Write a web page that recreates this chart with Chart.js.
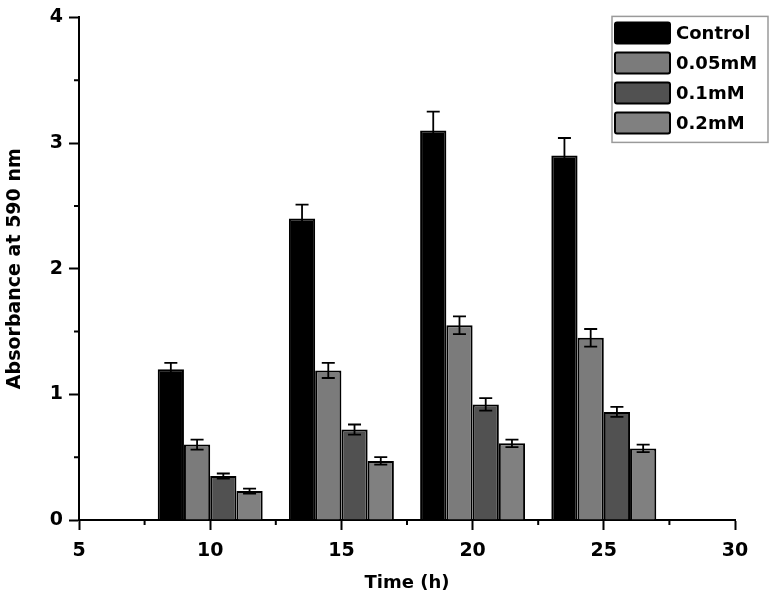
<!DOCTYPE html>
<html>
<head>
<meta charset="utf-8">
<script src="https://cdn.jsdelivr.net/npm/chart.js@4.4.1/dist/chart.umd.min.js"></script>
<style>
  html, body { margin: 0; padding: 0; background: #fff; }
  #wrap { width: 774px; height: 597px; }
</style>
</head>
<body>
<div id="wrap"><canvas id="absChart" width="774" height="597"></canvas></div>
<script>
// Time points (h)
const times = [10, 15, 20, 25];

// Absorbance at 590 nm per treatment
const controlValues = [1.20, 2.40, 3.10, 2.90];
const mM005Values = [0.60, 1.19, 1.55, 1.45];
const mM01Values = [0.35, 0.72, 0.92, 0.86];
const mM02Values = [0.23, 0.47, 0.61, 0.57];

// Error bars (+/-)
const controlErr = [0.05, 0.11, 0.15, 0.14];
const mM005Err = [0.04, 0.06, 0.07, 0.07];
const mM01Err = [0.02, 0.04, 0.05, 0.04];
const mM02Err = [0.02, 0.03, 0.03, 0.03];

// Axis ticks
const xTicks = [5, 10, 15, 20, 25, 30];
const yTicks = [0, 1, 2, 3, 4];

const seriesLabels = ['Control', '0.05mM', '0.1mM', '0.2mM'];
const seriesColors = ['#000000', '#7b7b7b', '#515151', '#808080'];

const FONT = "'DejaVu Sans', sans-serif";

function points(vals) {
    return times.map((t, i) => ({ x: t, y: vals[i] }));
}

// Error bars drawn on top of each bar
const errorBarPlugin = {
    id: 'errorBars',
    afterDatasetsDraw(chart) {
        const ctx = chart.ctx;
        const yScale = chart.scales.y;
        ctx.save();
        ctx.strokeStyle = '#000';
        ctx.lineWidth = 1.8;
        chart.data.datasets.forEach((ds, di) => {
            const meta = chart.getDatasetMeta(di);
            meta.data.forEach((bar, i) => {
                const v = ds.data[i].y;
                const e = ds.errors[i];
                const yTop = yScale.getPixelForValue(v + e);
                const yBot = yScale.getPixelForValue(v - e);
                const half = 6.5;
                ctx.beginPath();
                ctx.moveTo(bar.x, yTop);
                ctx.lineTo(bar.x, yBot);
                ctx.moveTo(bar.x - half, yTop);
                ctx.lineTo(bar.x + half, yTop);
                ctx.moveTo(bar.x - half, yBot);
                ctx.lineTo(bar.x + half, yBot);
                ctx.stroke();
            });
        });
        ctx.restore();
    }
};

// Minor ticks halfway between the major ones
const minorTickPlugin = {
    id: 'minorTicks',
    afterDraw(chart) {
        const ctx = chart.ctx;
        const xs = chart.scales.x;
        const ys = chart.scales.y;
        const area = chart.chartArea;
        ctx.save();
        ctx.strokeStyle = '#000';
        ctx.lineWidth = 2;
        ctx.beginPath();
        for (let i = 0; i < xTicks.length - 1; i++) {
            const px = xs.getPixelForValue((xTicks[i] + xTicks[i + 1]) / 2);
            ctx.moveTo(px, area.bottom);
            ctx.lineTo(px, area.bottom + 5);
        }
        for (let i = 0; i < yTicks.length - 1; i++) {
            const py = ys.getPixelForValue((yTicks[i] + yTicks[i + 1]) / 2);
            ctx.moveTo(area.left, py);
            ctx.lineTo(area.left - 5, py);
        }
        ctx.stroke();
        ctx.restore();
    }
};

// Boxed legend in the top right corner
const boxLegendPlugin = {
    id: 'boxLegend',
    afterDraw(chart, args, opts) {
        const ctx = chart.ctx;
        const area = chart.chartArea;
        const left = area.right + opts.offsetX;
        const top = area.top + opts.offsetY;
        const rowH = opts.rowHeight;
        const n = chart.data.datasets.length;
        ctx.save();
        ctx.strokeStyle = '#9a9a9a';
        ctx.lineWidth = 1.5;
        ctx.strokeRect(left, top, opts.width, n * rowH + 6);
        ctx.font = 'bold 18px ' + FONT;
        ctx.textBaseline = 'middle';
        ctx.textAlign = 'left';
        chart.data.datasets.forEach((ds, i) => {
            const y = top + 6 + i * rowH;
            ctx.fillStyle = ds.backgroundColor;
            ctx.strokeStyle = '#000';
            ctx.lineWidth = 2;
            ctx.beginPath();
            if (ctx.roundRect) ctx.roundRect(left + 3, y, 55, rowH - 9, 2);
            else ctx.rect(left + 3, y, 55, rowH - 9);
            ctx.fill();
            ctx.stroke();
            ctx.fillStyle = '#000';
            ctx.fillText(ds.label, left + 64, y + (rowH - 9) / 2 + 1);
        });
        ctx.restore();
    }
};

const errSets = [controlErr, mM005Err, mM01Err, mM02Err];
const valSets = [controlValues, mM005Values, mM01Values, mM02Values];

const ctx = document.getElementById('absChart').getContext('2d');
window.absChart = new Chart(ctx, {
    type: 'bar',
    data: {
        datasets: seriesLabels.map((label, i) => ({
            label: label,
            data: points(valSets[i]),
            errors: errSets[i],
            backgroundColor: seriesColors[i],
            borderColor: '#000',
            borderWidth: 2,
            categoryPercentage: 0.8,
            barPercentage: 1.0
        }))
    },
    options: {
        responsive: false,
        animation: false,
        layout: {
            padding: { top: 16, right: 39, left: 0, bottom: 0 }
        },
        plugins: {
            legend: { display: false },
            tooltip: { enabled: false },
            boxLegend: { offsetX: -123, offsetY: -1, width: 156, rowHeight: 30 }
        },
        scales: {
            x: {
                type: 'linear',
                min: 5,
                max: 30,
                offset: false,
                afterBuildTicks: (scale) => { scale.ticks = xTicks.map(v => ({ value: v })); },
                afterFit: (scale) => { scale.height = 77; },
                grid: { offset: false, drawOnChartArea: false, drawTicks: true, tickLength: 10, tickWidth: 2, tickColor: '#000' },
                border: { display: true, color: '#000', width: 2 },
                ticks: { color: '#000', padding: 10, font: { family: FONT, size: 19, weight: 'bold' } },
                title: {
                    display: true,
                    text: 'Time (h)',
                    color: '#000',
                    padding: { top: 0, bottom: 3 },
                    font: { family: FONT, size: 18, weight: 'bold' }
                }
            },
            y: {
                min: 0,
                max: 4,
                afterBuildTicks: (scale) => { scale.ticks = yTicks.map(v => ({ value: v })); },
                afterFit: (scale) => { scale.width = 79; },
                grid: { drawOnChartArea: false, drawTicks: true, tickLength: 10, tickWidth: 2, tickColor: '#000' },
                border: { display: true, color: '#000', width: 2 },
                ticks: { color: '#000', padding: 6, font: { family: FONT, size: 19, weight: 'bold' } },
                title: {
                    display: true,
                    text: 'Absorbance at 590 nm',
                    color: '#000',
                    padding: { top: 4, bottom: 0 },
                    font: { family: FONT, size: 19, weight: 'bold' }
                }
            }
        }
    },
    plugins: [errorBarPlugin, minorTickPlugin, boxLegendPlugin]
});
</script>
</body>
</html>
